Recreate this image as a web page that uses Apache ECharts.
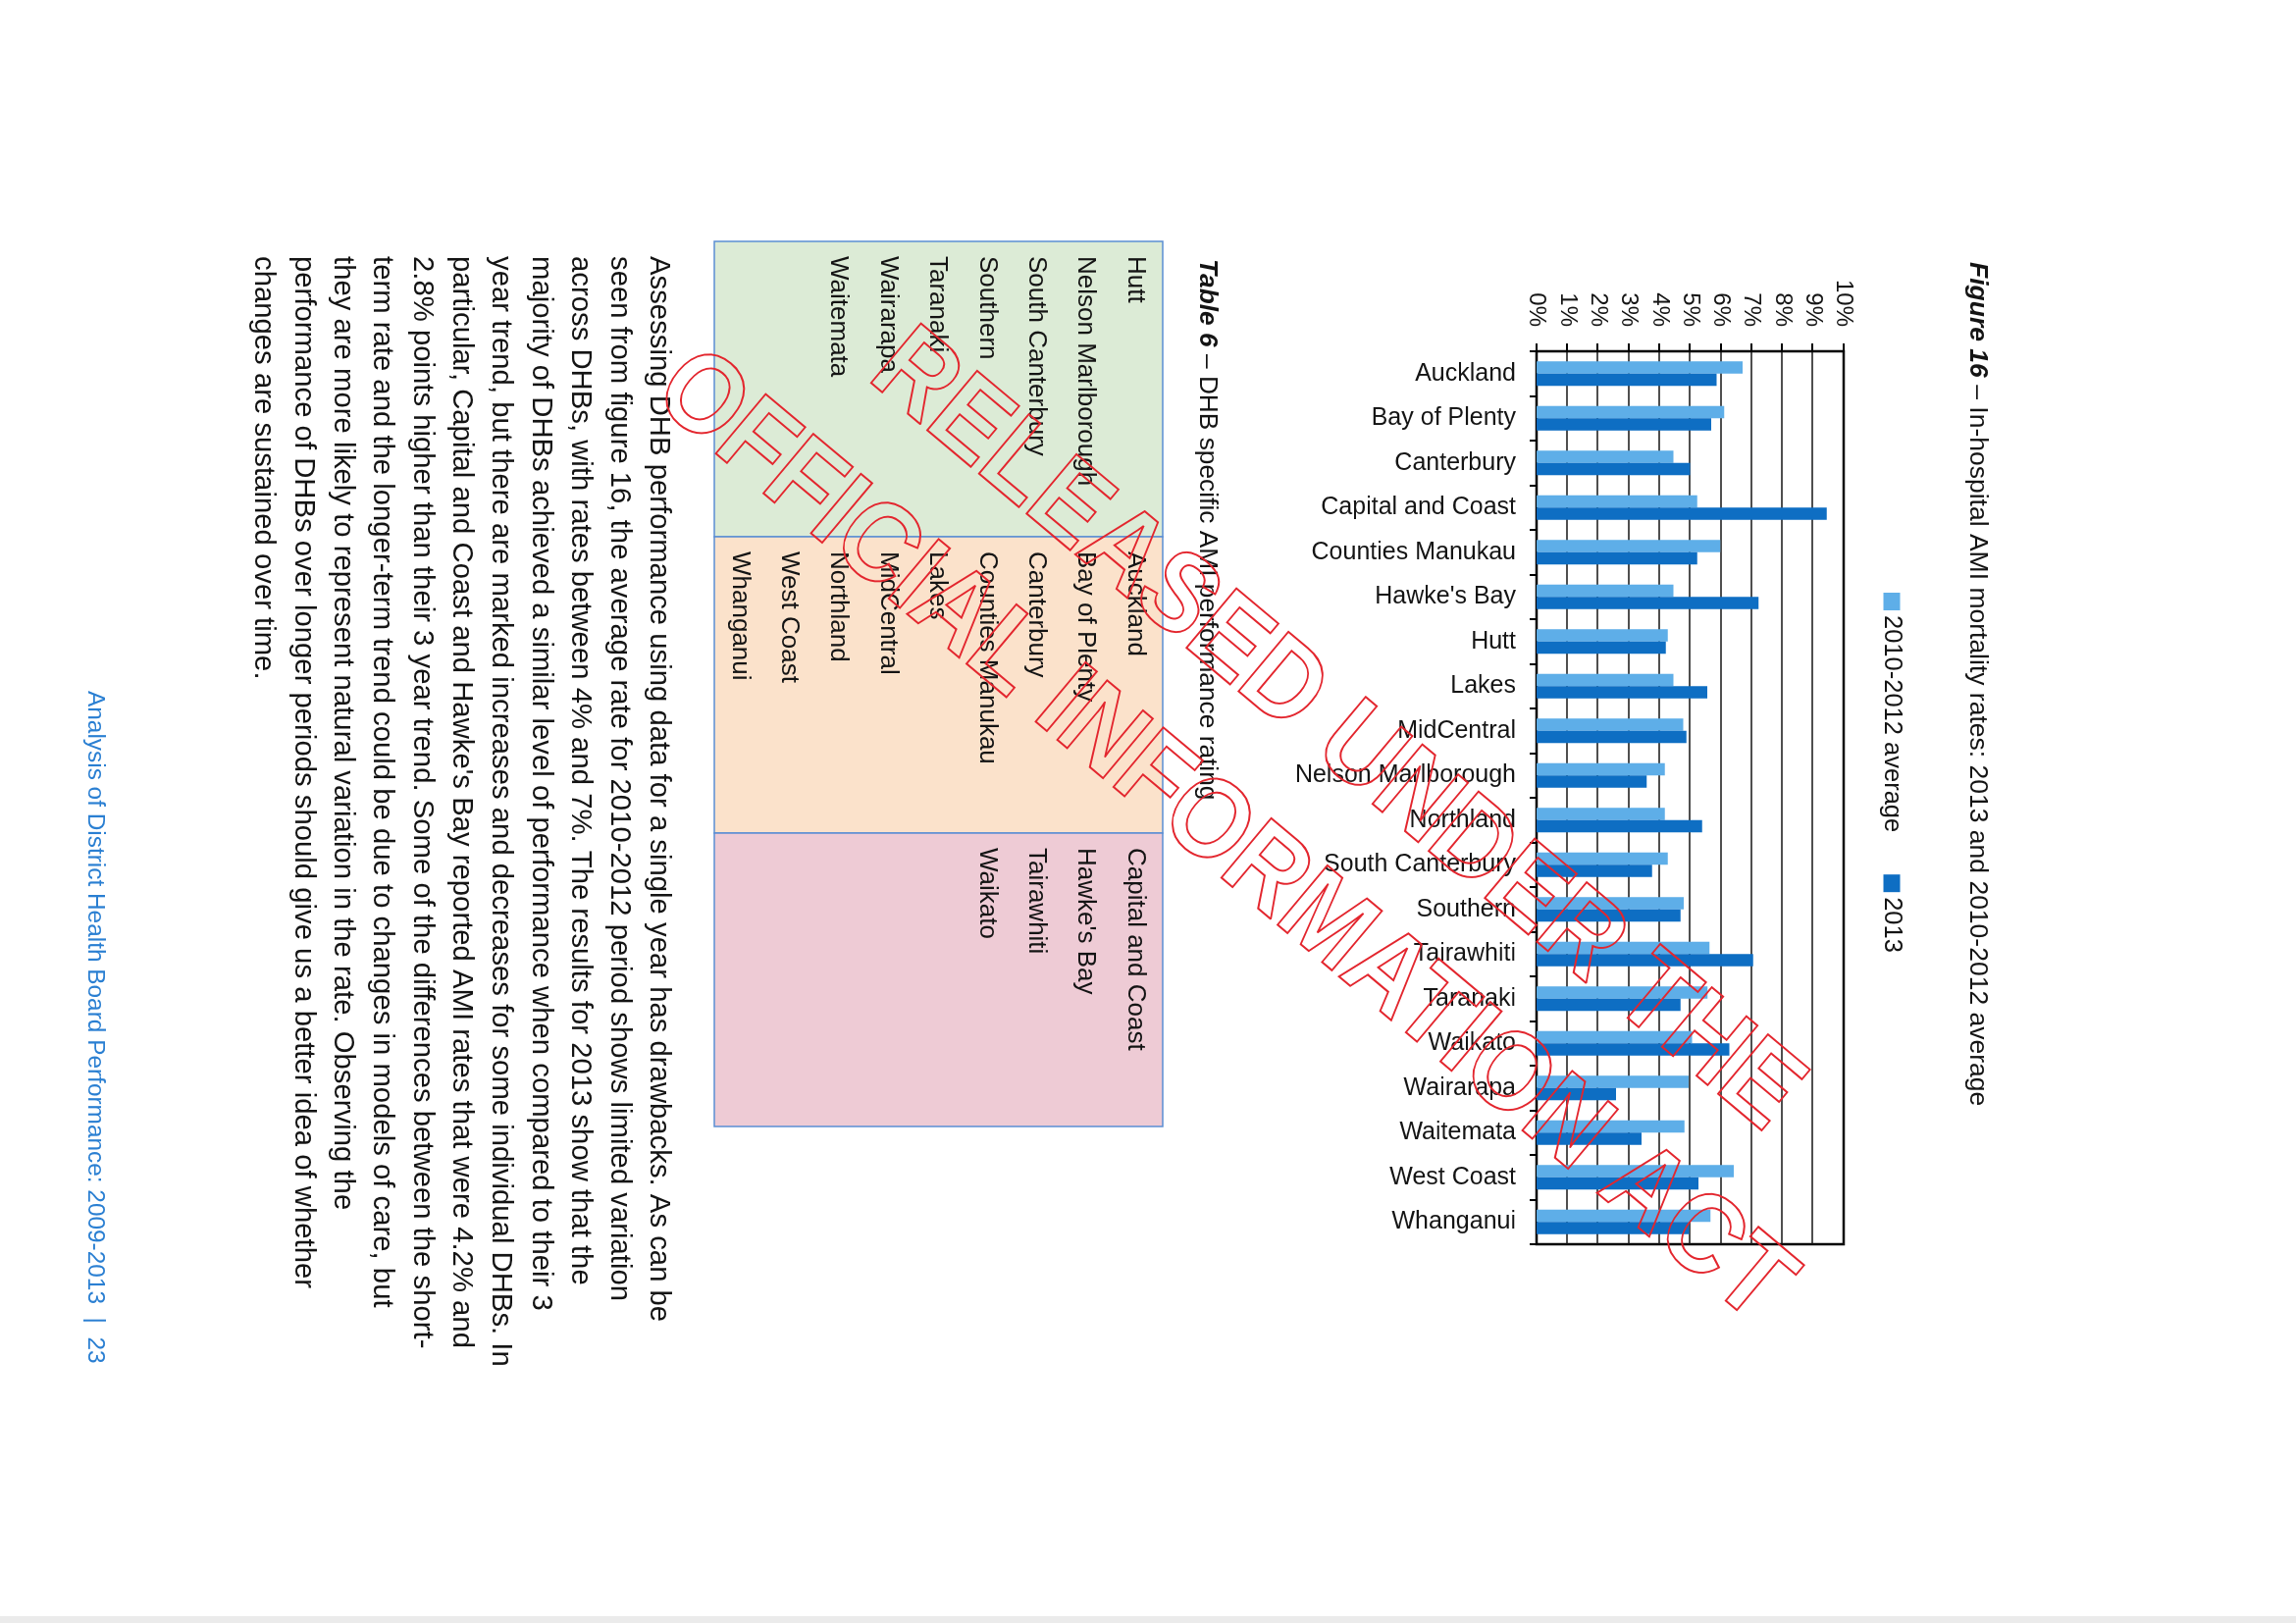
<!DOCTYPE html>
<html><head><meta charset="utf-8">
<script src="https://cdn.jsdelivr.net/npm/echarts@6/dist/echarts.min.js"></script>
<style>
html,body{margin:0;padding:0;width:2340px;height:1654px;overflow:hidden;background:#fff;}
#page{position:absolute;left:0;top:0;width:1654px;height:2340px;transform-origin:0 0;transform:translate(2340px,0) rotate(90deg);}
</style></head><body><div id="page"></div>
<script>
// ---- data ----
const categories = ['Auckland','Bay of Plenty','Canterbury','Capital and Coast','Counties Manukau',"Hawke's Bay",'Hutt','Lakes','MidCentral','Nelson Marlborough','Northland','South Canterbury','Southern','Tairawhiti','Taranaki','Waikato','Wairarapa','Waitemata','West Coast','Whanganui'];
const seriesNames = ['2010-2012 average','2013'];
const avg2010to2012 = [6.71,6.11,4.46,5.23,5.98,4.46,4.27,4.46,4.78,4.18,4.18,4.27,4.79,5.63,5.57,5.06,4.95,4.82,6.42,5.66];
const rate2013 = [5.86,5.69,5.00,9.45,5.23,7.23,4.21,5.56,4.88,3.59,5.39,3.76,4.69,7.05,4.69,6.28,2.59,3.42,5.27,4.97];
const valueTicks = [0,1,2,3,4,5,6,7,8,9,10];
const chartTitleBold = 'Figure 16';
const chartTitleRest = ' – In-hospital AMI mortality rates: 2013 and 2010-2012 average';
const tableTitleBold = 'Table 6';
const tableTitleRest = ' – DHB specific AMI performance rating';
const ratingGreen = ['Hutt','Nelson Marlborough','South Canterbury','Southern','Taranaki','Wairarapa','Waitemata'];
const ratingOrange = ['Auckland','Bay of Plenty','Canterbury','Counties Manukau','Lakes','MidCentral','Northland','West Coast','Whanganui'];
const ratingPink = ['Capital and Coast',"Hawke's Bay",'Tairawhiti','Waikato'];
const paragraphLines = [
 'Assessing DHB performance using data for a single year has drawbacks. As can be',
 'seen from figure 16, the average rate for 2010-2012 period shows limited variation',
 'across DHBs, with rates between 4% and 7%. The results for 2013 show that the',
 'majority of DHBs achieved a similar level of performance when compared to their 3',
 'year trend, but there are marked increases and decreases for some individual DHBs. In',
 "particular, Capital and Coast and Hawke's Bay reported AMI rates that were 4.2% and",
 '2.8% points higher than their 3 year trend. Some of the differences between the short-',
 'term rate and the longer-term trend could be due to changes in models of care, but',
 'they are more likely to represent natural variation in the rate. Observing the',
 'performance of DHBs over longer periods should give us a better idea of whether',
 'changes are sustained over time.'
];
const footerText = 'Analysis of District Health Board Performance: 2009-2013  |  23';
const watermarkLines = ['RELEASED UNDER THE','OFFICIAL INFORMATION ACT'];

// ---- layout (portrait page, rotated 90deg clockwise by CSS) ----
const FONT = '"Liberation Sans", Arial, sans-serif';
const TXT = '#141414';
const g = [];
function txt(x, y, text, size, opts) {
  opts = opts || {};
  g.push({type:'text', x:x, y:y, rotation:opts.rotation||0, z:opts.z||10, silent:true,
    style:Object.assign({text:text, fontSize:size, fontFamily:FONT, fill:opts.fill||TXT,
      align:opts.align||'left', textAlign:opts.align||'left',
      verticalAlign:'middle', textVerticalAlign:'middle'}, opts.style||{})});
}
// table title
txt(264, 1110, '{b|' + tableTitleBold + '}' + tableTitleRest, 26.3, {style:{rich:{b:{fontSize:26.3,fontFamily:FONT,fontWeight:'bold',fontStyle:'italic',fill:TXT}}}});
// table bands
const bandX = [246, 547, 849, 1148];
const bandFill = ['#dcebd6','#fbe2cb','#eecbd5'];
const tableTop = 1155, tableBottom = 1612;
for (let i = 0; i < 3; i++) {
  g.push({type:'rect', z:2, silent:true, shape:{x:bandX[i], y:tableTop, width:bandX[i+1]-bandX[i], height:tableBottom-tableTop},
    style:{fill:bandFill[i], stroke:'#5b8fd3', lineWidth:1.5}});
}
const rowY0 = 1183, rowStep = 50.4;
[ratingGreen, ratingOrange, ratingPink].forEach((list, ci) => {
  list.forEach((name, ri) => txt(bandX[ci] + 15, rowY0 + ri * rowStep, name, 26));
});
// paragraph
paragraphLines.forEach((line, i) => txt(261, 1668.5 + i * 40.3, line, 29.3));
// footer
txt(704, 2243, footerText, 24.4, {fill:'#2a7fd2'});
// faint scan edge
g.push({type:'rect', z:1, silent:true, shape:{x:1647, y:0, width:7, height:2340}, style:{fill:'#ebebeb'}});
// watermark
const wmRot = 50 * Math.PI / 180;
const wmCenters = [[746, 979], [854, 1094]];
watermarkLines.forEach((line, i) => {
  g.push({type:'text', x:wmCenters[i][0], y:wmCenters[i][1], rotation:wmRot, scaleX:0.9, scaleY:1, z:100, silent:true,
    style:{text:line, fontSize:115, fontWeight:'bold', fontFamily:FONT, fill:'none', stroke:'#e3262e', lineWidth:2,
      align:'center', textAlign:'center', verticalAlign:'middle', textVerticalAlign:'middle'}});
});

const chart = echarts.init(document.getElementById('page'), null, {renderer:'canvas', width:1654, height:2340});
chart.setOption({
  backgroundColor:'#ffffff',
  animation:false,
  textStyle:{fontFamily:FONT},
  title:{
    text:'{b|' + chartTitleBold + '}' + chartTitleRest,
    left:262, top:304,
    textStyle:{fontSize:26.5, fontWeight:'normal', color:TXT, fontFamily:FONT, lineHeight:31,
      rich:{b:{fontSize:26.5, fontWeight:'bold', fontStyle:'italic', color:TXT, fontFamily:FONT, lineHeight:31}}}
  },
  legend:{
    data:seriesNames, left:599, top:394, itemWidth:18, itemHeight:17, itemGap:43, icon:'rect',
    textStyle:{fontSize:25.5, color:TXT, fontFamily:FONT}
  },
  grid:{left:358, top:461, width:910, height:313, show:true, borderColor:'#000', borderWidth:2.5, backgroundColor:'transparent'},
  xAxis:{
    type:'category', data:categories,
    axisLine:{show:true, lineStyle:{color:'#000', width:2}},
    axisTick:{show:true, length:7, lineStyle:{color:'#000', width:2}},
    axisLabel:{rotate:90, interval:0, margin:21, fontSize:25, color:TXT, fontFamily:FONT, padding:[14,0,0,0]},
    splitLine:{show:false}
  },
  yAxis:{
    type:'value', min:valueTicks[0], max:valueTicks[valueTicks.length-1], interval:1,
    axisLine:{show:true, lineStyle:{color:'#000', width:2}},
    axisTick:{show:true, length:8, lineStyle:{color:'#000', width:2}},
    axisLabel:{formatter:'{value}%', margin:25, fontSize:24, color:TXT, fontFamily:FONT, padding:[10,0,0,0]},
    splitLine:{show:true, lineStyle:{color:'#151515', width:1.6}}
  },
  series:[
    {name:seriesNames[0], type:'bar', data:avg2010to2012, barGap:'0%', barCategoryGap:'45%', itemStyle:{color:'#5eaee8'}},
    {name:seriesNames[1], type:'bar', data:rate2013, barGap:'0%', barCategoryGap:'45%', itemStyle:{color:'#0e6ec3'}}
  ],
  graphic:{elements:g}
});
</script></body></html>
